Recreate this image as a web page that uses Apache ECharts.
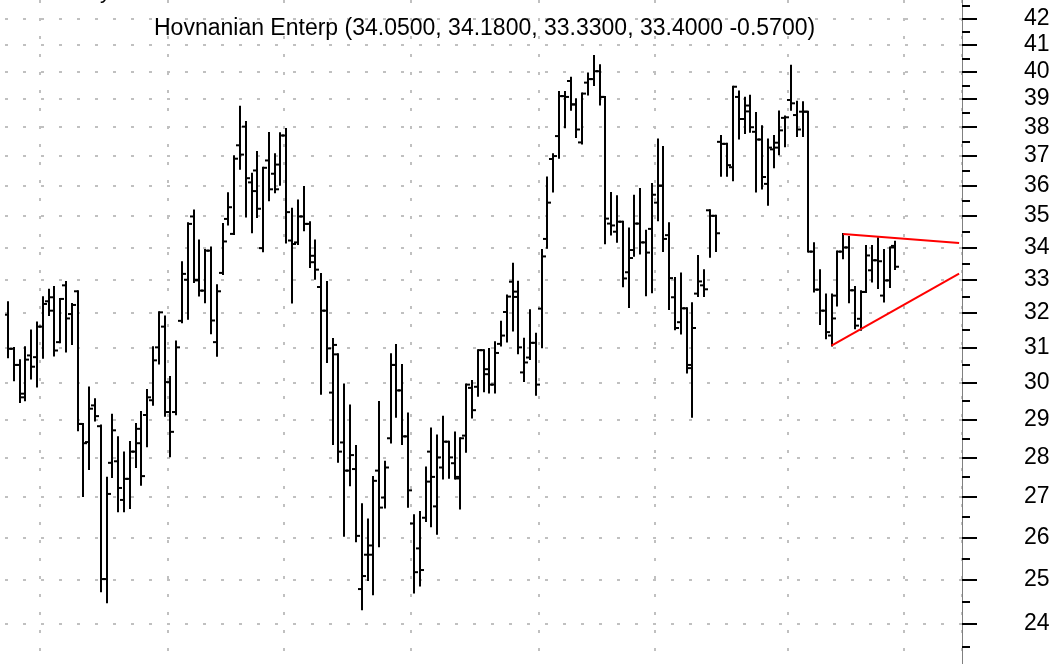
<!DOCTYPE html>
<html>
<head>
<meta charset="utf-8">
<title>Hovnanian Enterp</title>
<script src="https://cdn.jsdelivr.net/npm/echarts@6/dist/echarts.min.js"></script>
<style>
html, body { margin: 0; padding: 0; background: #fff; }
#chart { width: 1061px; height: 664px; }
</style>
</head>
<body>
<div id="chart"></div>
<script>
// daily bars (oldest first)
var opens = [31.95,30.96,30.50,29.60,30.77,30.72,31.60,32.35,32.47,31.15,32.83,31.97,32.65,28.88,28.40,29.38,28.82,25.02,27.86,27.90,
	26.92,27.45,28.15,28.75,29.12,29.52,31.00,31.60,29.20,29.20,31.77,33.00,34.99,33.00,32.67,33.90,31.15,33.21,34.91,34.43,
	37.37,38.02,36.11,36.51,33.98,36.85,36.40,36.71,37.71,34.22,34.16,34.99,34.75,33.74,32.78,32.07,29.73,30.80,28.39,27.66,
	27.70,24.79,25.59,25.59,27.66,26.98,28.50,30.50,29.79,28.55,26.34,25.74,26.48,28.15,26.76,27.74,28.41,27.85,27.50,28.57,
	29.86,29.89,30.92,30.38,29.95,31.10,32.03,32.94,32.48,30.29,30.71,31.13,32.13,34.27,36.90,37.69,39.11,39.66,38.81,37.47,
	39.60,39.73,40.02,39.08,34.76,34.50,34.82,33.23,33.92,34.76,34.16,34.59,35.44,36.00,34.39,32.47,31.73,32.14,30.50,32.58,
	32.83,35.19,35.01,37.49,37.42,36.62,39.08,38.29,38.77,37.84,37.57,36.06,37.23,37.46,38.33,38.97,38.43,38.55,38.55,33.87,
	32.70,32.07,31.34,32.52,33.87,34.00,32.68,31.83,32.63,33.29,33.60,32.52,32.98,34.05];
var highs = [32.32,30.98,30.63,31.00,31.49,31.72,32.47,32.70,32.78,32.42,32.93,32.27,32.65,28.88,29.87,29.55,28.84,27.48,29.13,28.53,
	28.13,28.40,28.88,29.20,29.80,31.00,32.02,31.90,30.16,31.17,33.54,34.77,35.18,34.22,33.92,34.00,32.83,34.75,35.75,36.99,
	38.73,38.18,36.40,37.14,36.60,37.80,37.06,37.79,37.94,35.24,35.51,35.96,34.80,34.22,33.18,32.93,31.24,30.80,29.95,29.38,
	28.30,26.81,26.44,27.50,29.47,27.89,30.80,31.07,30.50,29.16,26.54,26.62,27.74,28.76,28.57,29.07,28.41,28.65,28.50,29.95,
	30.05,30.92,30.92,30.95,31.15,31.74,32.52,33.49,32.94,31.25,32.08,31.39,33.92,36.27,37.06,39.26,39.26,39.78,39.00,39.20,
	39.94,40.59,40.24,39.08,35.76,35.65,34.82,34.60,35.67,35.89,34.53,36.06,37.57,37.31,34.77,33.05,33.19,32.14,32.29,33.73,
	33.29,35.19,35.01,37.69,37.42,39.45,39.28,39.05,39.12,38.50,38.03,37.57,37.69,38.56,38.38,40.22,38.91,38.89,38.55,34.13,
	33.29,32.55,32.55,33.87,34.43,34.33,32.78,32.65,34.05,34.05,34.29,33.92,34.00,34.18];
var lows = [30.72,30.07,29.47,29.52,30.12,29.90,30.70,31.94,30.77,31.15,30.88,31.10,28.71,27.02,27.70,28.97,24.74,24.49,27.50,26.64,
	26.64,26.72,27.75,27.30,28.29,29.40,30.54,29.10,28.03,29.14,31.73,31.83,32.93,32.52,32.32,31.41,30.76,33.18,34.73,34.43,
	36.57,34.99,34.48,34.97,33.88,35.52,35.78,36.03,34.16,32.31,34.11,34.55,33.39,33.03,29.70,30.58,28.35,27.89,26.04,27.29,
	25.91,24.33,25.00,24.67,25.79,26.73,28.39,29.07,28.35,26.75,24.71,24.87,26.40,26.27,26.09,27.46,27.48,27.46,26.71,28.15,
	29.05,29.64,29.77,29.73,29.73,31.05,31.17,31.49,30.83,30.05,30.67,29.67,31.00,33.99,35.81,36.94,38.00,38.62,37.66,37.43,
	39.17,39.51,38.81,34.13,34.41,34.18,32.80,32.18,33.74,33.81,32.53,32.62,34.87,33.89,32.12,31.52,31.40,30.29,29.07,32.51,
	32.51,33.71,33.89,36.33,36.33,36.18,37.61,37.80,37.84,35.81,35.91,35.37,36.62,37.06,37.34,38.62,37.69,37.69,33.87,32.64,
	31.68,31.26,31.05,32.22,33.66,32.32,31.55,31.51,32.63,32.95,32.75,32.34,32.78,33.33];
var closes = [30.96,30.50,29.70,30.65,30.45,31.60,32.27,32.07,30.91,32.42,31.84,32.24,28.88,28.37,29.29,29.09,25.02,27.07,28.71,27.22,
	27.45,28.15,28.37,27.52,29.60,30.63,32.02,30.02,28.67,31.00,33.18,34.75,32.98,32.67,33.90,31.78,32.65,34.19,35.29,36.91,
	37.05,36.25,35.82,35.24,36.60,35.88,35.88,37.71,35.13,34.11,34.99,34.75,33.54,33.31,32.07,30.97,31.07,28.15,27.66,28.06,
	26.04,25.09,25.81,27.40,26.73,27.74,30.50,29.79,28.55,27.16,25.18,25.23,27.38,27.50,28.00,28.41,28.00,27.46,28.50,29.95,
	29.25,30.92,30.24,29.95,30.84,31.34,32.49,32.64,31.00,30.57,31.13,29.95,33.72,35.44,37.00,39.11,39.08,38.81,37.92,39.20,
	39.73,40.02,39.08,34.92,34.70,34.82,33.04,33.67,34.76,34.16,33.84,35.70,36.00,34.27,33.05,31.56,32.14,30.41,31.56,32.95,
	32.71,35.01,34.45,37.42,36.69,39.45,38.29,38.56,38.00,37.57,36.29,37.29,37.29,37.89,38.35,38.85,37.92,38.55,33.87,32.70,
	32.07,31.44,31.84,33.87,34.00,32.68,31.63,32.63,33.75,33.60,33.57,32.98,34.00,33.40];

// price axis
var priceTicks = [24,25,26,27,28,29,30,31,32,33,34,35,36,37,38,39,40,41,42];
var halfTicks = [23.5,24.5,25.5,26.5,27.5,28.5,29.5,30.5,31.5,32.5,33.5,34.5,35.5,36.5,37.5,38.5,39.5,40.5,41.5,42.5];
var priceMin = 23.13;
var priceMax = 42.745;

// first bar of each month (vertical grid)
var monthStarts = [6,28,48,70,92,112,135,155];

// hand drawn triangle [barIndex, price]
var upperTrend = [[144, 34.43], [164, 34.14]];
var lowerTrend = [[142, 31.05], [164, 33.19]];

var titleText = 'Hovnanian Enterp (34.0500, 34.1800, 33.3300, 33.4000 -0.5700)';
var emptySlots = 11; // room on the right for the trend lines

(function() {
	"use strict";
	var chart = echarts.init(document.getElementById('chart'), null, {renderer: 'canvas'});

	var categories = [];
	for (var i = 0; i < opens.length + emptySlots; i++) {
		categories.push(String(i));
	}
	var bars = [];
	for (var j = 0; j < opens.length; j++) {
		bars.push([j, opens[j], highs[j], lows[j], closes[j]]);
	}

	// open tick left, close tick right
	function renderOhlc(params, api) {
		var idx = api.value(0);
		var o = api.coord([idx, api.value(1)]);
		var h = api.coord([idx, api.value(2)]);
		var l = api.coord([idx, api.value(3)]);
		var c = api.coord([idx, api.value(4)]);
		var x = Math.round(o[0]);
		var style = {stroke: '#000', lineWidth: 2};
		return {
			type: 'group',
			children: [
				{type: 'line', shape: {x1: x, y1: h[1] - 1, x2: x, y2: l[1] + 1}, style: style},
				{type: 'line', shape: {x1: x - 4, y1: o[1], x2: x, y2: o[1]}, style: style},
				{type: 'line', shape: {x1: x, y1: c[1], x2: x + 4, y2: c[1]}, style: style}
			]
		};
	}

	var gridDots = {color: '#c0c0c0', width: 2, type: [3, 15]};

	var option = {
		animation: false,
		backgroundColor: '#fff',
		title: {
			text: titleText,
			left: 149,
			top: 12,
			textStyle: {fontFamily: 'Liberation Sans', fontSize: 23, fontWeight: 'normal', color: '#000'}
		},
		graphic: [{
			type: 'text',
			left: 62,
			top: -19,
			style: {text: 'Daily', font: '22px "Liberation Sans"', fill: '#000'}
		}],
		grid: {left: 5, right: 99, top: 0, bottom: 0},
		xAxis: {
			type: 'category',
			data: categories,
			boundaryGap: true,
			axisLine: {show: false},
			axisTick: {show: false},
			axisLabel: {show: false},
			splitLine: {
				show: true,
				interval: function(index) { return monthStarts.indexOf(index) >= 0; },
				lineStyle: gridDots
			}
		},
		yAxis: [{
			type: 'log',
			position: 'right',
			min: priceMin,
			max: priceMax,
			axisLine: {show: true, lineStyle: {color: '#808080', width: 1}},
			axisTick: {show: true, customValues: priceTicks, length: 15, lineStyle: {color: '#000', width: 2}},
			axisLabel: {
				show: true,
				customValues: priceTicks,
				margin: 62,
				fontFamily: 'Liberation Sans',
				fontSize: 23,
				color: '#000'
			},
			splitLine: {show: true, lineStyle: gridDots}
		}, {
			type: 'log',
			position: 'right',
			min: priceMin,
			max: priceMax,
			axisLine: {show: false},
			axisTick: {show: true, customValues: halfTicks, length: 8, lineStyle: {color: '#000', width: 2}},
			axisLabel: {show: false},
			splitLine: {show: false}
		}],
		series: [{
			type: 'custom',
			name: 'HOV',
			renderItem: renderOhlc,
			encode: {x: 0, y: [1, 2, 3, 4]},
			data: bars,
			clip: true
		}, {
			type: 'line',
			data: upperTrend,
			symbol: 'none',
			lineStyle: {color: '#ff0000', width: 2}
		}, {
			type: 'line',
			data: lowerTrend,
			symbol: 'none',
			lineStyle: {color: '#ff0000', width: 2}
		}]
	};
	chart.setOption(option);
}());
</script>
</body>
</html>
